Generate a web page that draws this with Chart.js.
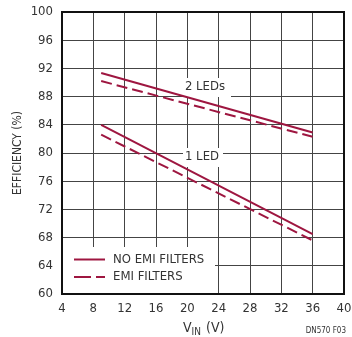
<!DOCTYPE html>
<html>
<head>
<meta charset="utf-8">
<script src="https://cdn.jsdelivr.net/npm/chart.js@4.4.1/dist/chart.umd.min.js"></script>
<style>
  html, body { margin: 0; padding: 0; background: #fff; }
  #wrap { width: 352px; height: 337px; position: relative; }
</style>
</head>
<body>
<div id="wrap"><canvas id="chart" width="352" height="337"></canvas></div>
<script>
// Efficiency vs input voltage
const vin = [9, 36];
const twoLedNoEmi = [91.35, 82.9];
const twoLedEmi = [90.2, 82.3];
const oneLedNoEmi = [84.0, 68.5];
const oneLedEmi = [82.6, 67.6];

const xTicks = [4, 8, 12, 16, 20, 24, 28, 32, 36, 40];
const yTicks = [60, 64, 68, 72, 76, 80, 84, 88, 92, 96, 100];

const lineColor = '#9e1640';
const textColor = '#333';
const fontFamily = '"Liberation Sans Narrow", "DejaVu Sans Condensed", "Roboto", sans-serif';

function pts(ys) {
    return vin.map((x, i) => ({ x: x, y: ys[i] }));
}

function series(label, ys, dashed) {
    return {
        label: label,
        data: pts(ys),
        borderColor: lineColor,
        borderWidth: 2,
        borderDash: dashed ? [11, 5] : [],
        pointRadius: 0,
        fill: false,
        tension: 0
    };
}

// white patches behind the in-plot labels and the legend, then text on top
const annotations = {
    id: 'annotations',
    beforeDatasetsDraw(chart) {
        const ctx = chart.ctx;
        ctx.save();
        ctx.fillStyle = '#fff';
        ctx.fillRect(183, 78, 48, 19);   // 2 LEDs
        ctx.fillRect(183, 148, 40, 19);  // 1 LED
        ctx.fillRect(63, 247, 152, 47);  // legend
        ctx.restore();
    },
    afterDatasetsDraw(chart) {
        const ctx = chart.ctx;
        const a = chart.chartArea;
        ctx.save();
        // plot frame
        ctx.strokeStyle = '#111';
        ctx.lineWidth = 2;
        ctx.strokeRect(a.left, a.top, a.right - a.left, a.bottom - a.top);

        ctx.fillStyle = textColor;
        ctx.font = '13px ' + fontFamily;
        ctx.textBaseline = 'middle';
        ctx.textAlign = 'center';
        ctx.fillText('2 LEDs', 205, 87);
        ctx.fillText('1 LED', 202, 157);

        // legend
        ctx.strokeStyle = lineColor;
        ctx.lineWidth = 2;
        ctx.beginPath();
        ctx.moveTo(74, 259.5);
        ctx.lineTo(105, 259.5);
        ctx.stroke();
        ctx.setLineDash([17, 5]);
        ctx.beginPath();
        ctx.moveTo(74, 277);
        ctx.lineTo(105, 277);
        ctx.stroke();
        ctx.setLineDash([]);
        ctx.textAlign = 'left';
        ctx.fillText('NO EMI FILTERS', 113, 260);
        ctx.fillText('EMI FILTERS', 113, 277);

        // y title
        ctx.save();
        ctx.translate(18, (a.top + a.bottom) / 2);
        ctx.rotate(-Math.PI / 2);
        ctx.textAlign = 'center';
        ctx.font = '12px ' + fontFamily;
        ctx.fillText('EFFICIENCY (%)', 0, 0);
        ctx.restore();

        // x title: V_IN (V)
        ctx.textAlign = 'left';
        ctx.font = '14px ' + fontFamily;
        const cx = (a.left + a.right) / 2;
        const y = 328;
        let x = cx - 20;
        ctx.fillText('V', x, y);
        x += ctx.measureText('V').width;
        ctx.font = '10px ' + fontFamily;
        ctx.fillText('IN', x, y + 4);
        x += ctx.measureText('IN').width + 5;
        ctx.font = '14px ' + fontFamily;
        ctx.fillText('(V)', x, y);

        // figure id
        ctx.font = '8px ' + fontFamily;
        ctx.textAlign = 'right';
        ctx.fillText('DN570 F03', 346, 331);
        ctx.restore();
    }
};

function noOverflow(scale) {
    scale.paddingLeft = 0;
    scale.paddingRight = 0;
    scale.paddingTop = 0;
    scale.paddingBottom = 0;
}

const ctx = document.getElementById('chart').getContext('2d');
new Chart(ctx, {
    type: 'line',
    data: {
        datasets: [
            series('2 LEDs, no EMI filters', twoLedNoEmi, false),
            series('2 LEDs, EMI filters', twoLedEmi, true),
            series('1 LED, no EMI filters', oneLedNoEmi, false),
            series('1 LED, EMI filters', oneLedEmi, true)
        ]
    },
    options: {
        responsive: false,
        animation: false,
        layout: { padding: { top: 12, right: 8, left: 0, bottom: 0 } },
        plugins: {
            legend: { display: false },
            tooltip: { enabled: false }
        },
        scales: {
            x: {
                type: 'linear',
                min: xTicks[0],
                max: xTicks[xTicks.length - 1],
                afterBuildTicks(scale) {
                    scale.ticks = xTicks.map(v => ({ value: v }));
                },
                afterFit(scale) { scale.height = 43; noOverflow(scale); },
                grid: { color: '#444', lineWidth: 1, drawTicks: false },
                border: { display: false },
                ticks: {
                    color: textColor,
                    font: { family: fontFamily, size: 13 },
                    padding: 7,
                    maxRotation: 0,
                    autoSkip: false
                }
            },
            y: {
                type: 'linear',
                min: yTicks[0],
                max: yTicks[yTicks.length - 1],
                afterBuildTicks(scale) {
                    scale.ticks = yTicks.map(v => ({ value: v }));
                },
                afterFit(scale) { scale.width = 62; noOverflow(scale); },
                grid: { color: '#444', lineWidth: 1, drawTicks: false },
                border: { display: false },
                ticks: {
                    color: textColor,
                    font: { family: fontFamily, size: 13 },
                    padding: 9,
                    autoSkip: false
                }
            }
        }
    },
    plugins: [annotations]
});
</script>
</body>
</html>
